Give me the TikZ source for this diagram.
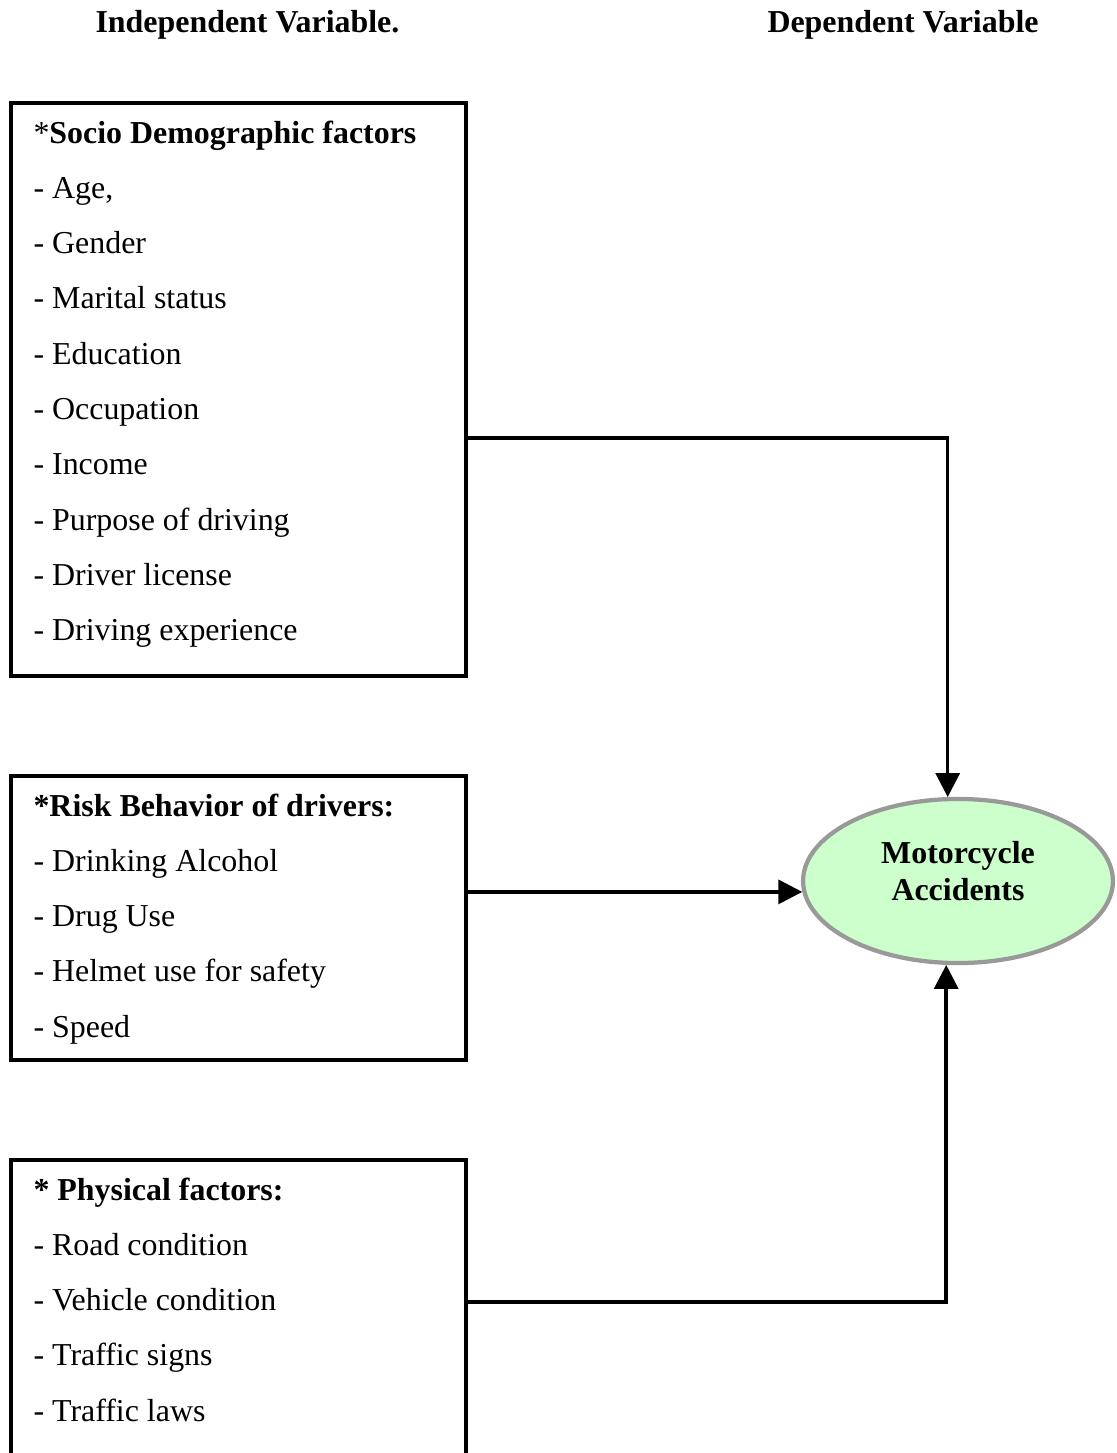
\documentclass[tikz,border=0pt]{standalone}
\usepackage{fontspec}
\setmainfont{Liberation Serif}
\usepackage{xcolor}
\usetikzlibrary{arrows.meta,fit,shapes.geometric}
\definecolor{AccGreen}{HTML}{CCFFCC}
\definecolor{AccGrey}{HTML}{999999}

\begin{document}
\begin{tikzpicture}[x=0.376pt,y=-0.376pt,
  factorbox/.style={draw,line width=1.6pt,inner sep=0pt},
  itemtext/.style={anchor=base west,inner sep=0pt,font=\fontsize{12}{14}\selectfont},
  headtext/.style={itemtext,font=\fontsize{12}{14}\selectfont\bfseries},
  link/.style={draw,line width=1.3pt,-{Triangle[length=9pt,width=9pt]}}]
  \useasboundingbox (0,0) rectangle (1117,1453);
  \node[headtext] (indep) at (95,32) {Independent Variable.};
  \node[headtext] (dep) at (767,32) {Dependent Variable};
  % socio demographic factors
  \node[factorbox,fit={(11,103) (466,676)}] (socio) {};
  \node[headtext] (socio-0) at (33,143) {\mdseries*\bfseries Socio Demographic factors};
  \foreach \t [count=\i] in {{Age,},Gender,Marital status,Education,Occupation,Income,Purpose of driving,Driver license,Driving experience}{
    \node[itemtext] (socio-\i) at (33,{143+55.3*\i}) {- \t};
  }
  % risk behavior
  \node[factorbox,fit={(11,776) (466,1060)}] (risk) {};
  \node[headtext] (risk-0) at (33,816) {*Risk Behavior of drivers:};
  \foreach \t [count=\i] in {Drinking Alcohol,Drug Use,Helmet use for safety,Speed}{
    \node[itemtext] (risk-\i) at (33,{816+55.3*\i}) {- \t};
  }
  % physical factors
  \node[factorbox,fit={(11,1160) (466,1500)}] (physical) {};
  \node[headtext] (physical-0) at (33,1200) {* Physical factors:};
  \foreach \t [count=\i] in {Road condition,Vehicle condition,Traffic signs,Traffic laws}{
    \node[itemtext] (physical-\i) at (33,{1200+55.3*\i}) {- \t};
  }
  \node[ellipse,draw=AccGrey,line width=1.6pt,fill=AccGreen,inner sep=0pt,
    minimum width=116.5pt,minimum height=61.7pt,align=center,text depth=7.7pt,
    font=\fontsize{12}{13.7}\selectfont\bfseries] (accident) at (958,881) {Motorcycle\\Accidents};
  \path[link] (socio.east |- 0,438) -| (accident.97.5);
  \path[link] (risk.east |- accident.184) -- (accident.184);
  \path[link] (physical.east |- 0,1302) -| (accident.262.5);
\end{tikzpicture}
\end{document}
